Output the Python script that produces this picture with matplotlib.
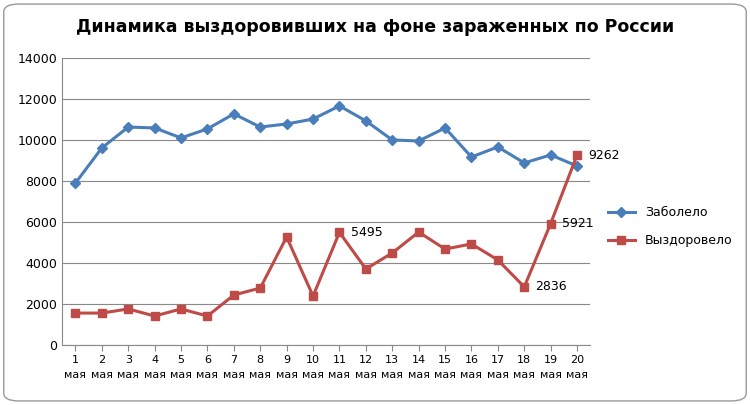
import matplotlib.pyplot as plt
from matplotlib.patches import FancyBboxPatch

days = [str(d) + "\nмая" for d in range(1, 21)]
sick = [7900, 9610, 10630, 10585, 10100, 10540, 11270, 10630, 10780, 11020,
        11660, 10930, 10000, 9950, 10585, 9170, 9660, 8880, 9270, 8730]
recovered = [1560, 1560, 1760, 1415, 1760, 1415, 2440, 2780, 5270, 2390,
             5495, 3710, 4490, 5510, 4680, 4930, 4150, 2836, 5921, 9262]
labelled = {10: 5495, 17: 2836, 18: 5921, 19: 9262}

fig = plt.figure(figsize=(7.5, 4.05), dpi=100)
fig.patches.append(FancyBboxPatch((0.005, 0.01), 0.99, 0.98, boxstyle="round,pad=0,rounding_size=0.02",
                                  transform=fig.transFigure, fill=False, edgecolor="#999999", linewidth=1))
ax = fig.add_axes([0.083, 0.148, 0.704, 0.709])

x = range(len(days))
ax.plot(x, sick, color="#4A7EBB", marker="D", markersize=5, linewidth=2.2, label="Заболело")
ax.plot(x, recovered, color="#BE4B48", marker="s", markersize=6, linewidth=2.2, label="Выздоровело")
for i, v in labelled.items():
    ax.annotate(str(v), (i, v), xytext=(8, 0), textcoords="offset points",
                va="center", fontsize=9)

ax.set_ylim(0, 14000)
ax.set_yticks(range(0, 14001, 2000))
ax.set_xlim(-0.5, len(days) - 0.5)
ax.set_xticks(list(x))
ax.set_xticklabels(days, fontsize=8, linespacing=1.6)
ax.tick_params(axis="y", labelsize=9, length=0)
ax.tick_params(axis="x", length=4, color="#888888")
ax.grid(axis="y", color="#888888", linewidth=0.8)
ax.set_axisbelow(True)
for s in ["top", "right"]:
    ax.spines[s].set_visible(False)
ax.spines["left"].set_color("#888888")
ax.spines["bottom"].set_color("#888888")

fig.suptitle("Динамика выздоровивших на фоне зараженных по России", x=0.5, y=0.955,
             fontsize=12.5, fontweight="bold")
fig.legend(loc="center left", bbox_to_anchor=(0.795, 0.44), frameon=False, fontsize=9,
           handlelength=2.2, labelspacing=1.2)
fig.savefig("out.png")
